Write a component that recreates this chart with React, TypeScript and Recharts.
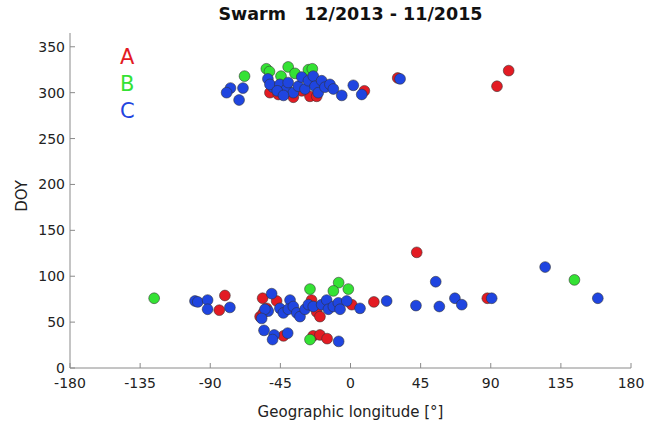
import { ScatterChart, Scatter, XAxis, YAxis } from "recharts"

// [longitude, day of year]
const satA: number[][] = [
  [-51.7, 300], [-46.3, 298], [-36.7, 295], [-26, 296], [-21.7, 296], [-31.3, 302],
  [8.9, 302], [30.3, 316], [94, 307], [101.5, 324],
  [-56.4, 76], [-47.4, 73], [-58, 56], [-53.8, 65], [-56, 60], [-25, 74], [-21.7, 61],
  [-19.6, 56], [0.8, 69], [15, 72], [-80.6, 79], [-84.2, 63], [42.5, 126], [87.8, 76],
  [-43, 35], [-24, 35], [-19.6, 36], [-15, 32],
]

const satB: number[][] = [
  [-68, 318], [-54, 326], [-52, 323], [-40, 328], [-44.6, 318], [-35.6, 321], [-27, 325], [-24.5, 326],
  [-126, 76], [-26, 86], [-7.6, 93], [-11, 84], [-1.4, 86], [-26, 31], [143.7, 96],
]

const satC: number[][] = [
  [-77, 305], [-79.5, 300], [-69, 305], [-71.5, 292], [-53, 315], [-49.8, 306], [-51.7, 309],
  [-45.3, 309], [-41, 304], [-40, 311], [-36.7, 300], [-33.5, 307], [-31.3, 317], [-29.2, 304],
  [-27, 313], [-23.9, 318], [-22.8, 307], [-20.7, 300], [-18.5, 313], [-16.4, 306], [-13.2, 309],
  [-11, 304], [-5.6, 297], [1.8, 308], [7.2, 298], [31.8, 315], [-47, 302], [-43, 297],
  [-99.8, 73], [-98, 72], [-91.7, 74], [-91.7, 64], [-77.4, 66], [-50.6, 81], [-38.8, 74],
  [-52.8, 62], [-54.9, 64], [-57, 54], [-45.3, 65], [-43.1, 60], [-39.9, 64], [-36.7, 67],
  [-34.5, 60], [-32.4, 56], [-29.2, 64], [-27, 69], [-23.9, 67], [-18.5, 69], [-15.3, 74],
  [-14.2, 64], [-11, 67], [-7.8, 71], [-6.7, 64], [-2.4, 73], [6.1, 65], [23.2, 73],
  [54.7, 94], [42, 68], [57, 67], [67, 76], [71.4, 69], [90.6, 76], [124.9, 110], [158.7, 76],
  [-55.5, 41], [-49, 36], [-50, 31], [-40.3, 38], [-7.6, 29],
]

const xTicks = [-180, -135, -90, -45, 0, 45, 90, 135, 180]
const yTicks = [0, 50, 100, 150, 200, 250, 300, 350]

const series = [
  { name: "A", data: satA, color: "#e31b23" },
  { name: "B", data: satB, color: "#34e234" },
  { name: "C", data: satC, color: "#1f45e0" },
]

const FONT = "'DejaVu Sans', sans-serif"
const AXIS = "#8a8a8a"

const toPoints = (d: number[][]) => d.map(([lon, doy]) => ({ lon, doy }))

function BottomTick({ x, y, payload }: any) {
  return (
    <g>
      <line x1={x} x2={x} y1={y} y2={y - 5} stroke={AXIS} />
      <text x={x} y={y + 20} textAnchor="middle" fontSize={14} fill="#222" fontFamily={FONT}>{payload.value}</text>
    </g>
  )
}

function TopTick({ x, y }: any) {
  return <line x1={x} x2={x} y1={y} y2={y + 5} stroke={AXIS} />
}

function LeftTick({ x, y, payload }: any) {
  return (
    <g>
      <line x1={x} x2={x + 5} y1={y} y2={y} stroke={AXIS} />
      <text x={x - 5} y={y + 5} textAnchor="end" fontSize={14} fill="#222" fontFamily={FONT}>{payload.value}</text>
    </g>
  )
}

function RightTick({ x, y }: any) {
  return <line x1={x} x2={x - 5} y1={y} y2={y} stroke={AXIS} />
}

export default function App() {
  return (
    <div style={{ position: "absolute", left: 0, top: 0, width: 653, height: 431, background: "#fff" }}>
      <div style={{ position: "absolute", left: 70, width: 561, top: 4, textAlign: "center", fontFamily: FONT, fontWeight: "bold", fontSize: 17.5, color: "#111", whiteSpace: "pre" }}>
        {"Swarm   12/2013 - 11/2015"}
      </div>
      <div style={{ position: "absolute", left: 70, width: 561, top: 403, textAlign: "center", fontFamily: FONT, fontSize: 15, color: "#222" }}>
        Geographic longitude [°]
      </div>
      <div style={{ position: "absolute", left: 13, top: 216, width: 40, transform: "rotate(-90deg)", transformOrigin: "left top", fontFamily: FONT, fontSize: 15, color: "#222", textAlign: "center" }}>
        DOY
      </div>
      <div style={{ position: "absolute", left: 120, top: 44, fontFamily: FONT, fontSize: 21, lineHeight: "27px" }}>
        {series.map((s) => <div key={s.name} style={{ color: s.color }}>{s.name}</div>)}
      </div>
      <div style={{ position: "absolute", left: 0, top: 0 }}>
        <ScatterChart width={653} height={431} margin={{ top: 33, right: 22, bottom: 0, left: 0 }}>
          <XAxis xAxisId="b" dataKey="lon" type="number" domain={[-180, 180]} ticks={xTicks} height={63}
            axisLine={{ stroke: AXIS }} tickLine={false} tickSize={0} tickMargin={0} tick={<BottomTick />} />
          <XAxis xAxisId="t" orientation="top" dataKey="lon" type="number" domain={[-180, 180]} ticks={xTicks} height={0}
            axisLine={{ stroke: AXIS }} tickLine={false} tickSize={0} tickMargin={0} tick={<TopTick />} />
          <YAxis yAxisId="l" dataKey="doy" type="number" domain={[0, 365]} ticks={yTicks} width={70}
            axisLine={{ stroke: AXIS }} tickLine={false} tickSize={0} tickMargin={0} tick={<LeftTick />} />
          <YAxis yAxisId="r" orientation="right" dataKey="doy" type="number" domain={[0, 365]} ticks={yTicks} width={0}
            axisLine={{ stroke: AXIS }} tickLine={false} tickSize={0} tickMargin={0} tick={<RightTick />} />
          {series.map((s) => (
            <Scatter key={s.name} name={s.name} data={toPoints(s.data)} xAxisId="b" yAxisId="l" isAnimationActive={false}
              shape={(p: any) => <circle cx={p.cx} cy={p.cy} r={5.4} fill={s.color} stroke="#333" strokeOpacity={0.7} strokeWidth={0.8} />} />
          ))}
        </ScatterChart>
      </div>
    </div>
  )
}
